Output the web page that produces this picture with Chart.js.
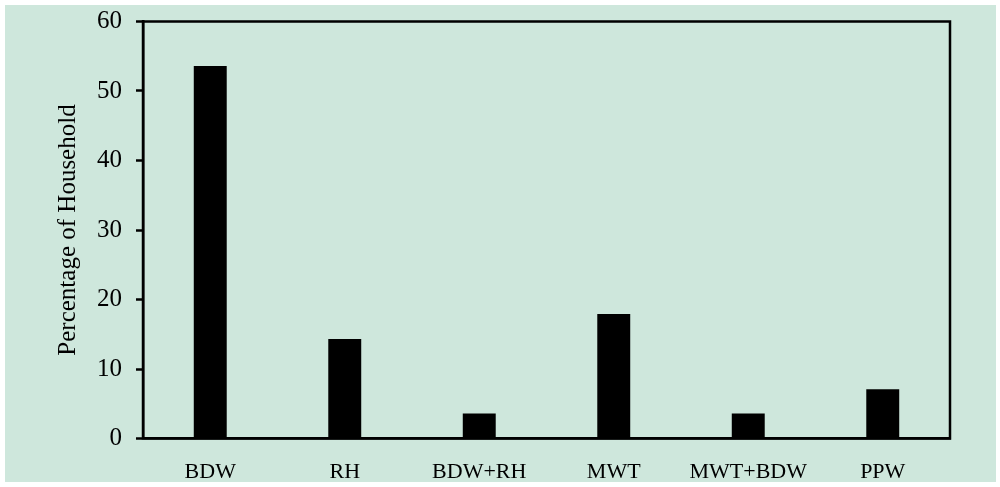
<!DOCTYPE html>
<html>
<head>
<meta charset="utf-8">
<script src="https://cdn.jsdelivr.net/npm/chart.js@4/dist/chart.umd.min.js"></script>
<style>
  html, body { margin: 0; padding: 0; background: #fff; }
  #wrap { width: 1000px; height: 487px; position: relative; }
</style>
</head>
<body>
<div id="wrap"><canvas id="myChart" width="1000" height="487"></canvas></div>
<script>
const categories = ['BDW', 'RH', 'BDW+RH', 'MWT', 'MWT+BDW', 'PPW'];
const percentages = [53.6, 14.3, 3.6, 17.9, 3.6, 7.1];
const yTicks = [0, 10, 20, 30, 40, 50, 60];

const serif = "'Liberation Serif', 'DejaVu Serif', serif";

// green panel behind everything, black frame round the plot
const panel = {
  id: 'panel',
  beforeDraw(chart) {
    const ctx = chart.ctx;
    ctx.save();
    ctx.fillStyle = 'rgb(206,231,220)';
    ctx.fillRect(5, 5, 991, 477);
    ctx.restore();
  },
  afterDraw(chart) {
    const a = chart.chartArea;
    const ctx = chart.ctx;
    ctx.save();
    ctx.strokeStyle = '#000';
    ctx.lineWidth = 2.5;
    ctx.strokeRect(a.left, a.top, a.right - a.left, a.bottom - a.top);
    ctx.restore();
  }
};

const data = {
  labels: categories,
  datasets: [{
    data: percentages,
    backgroundColor: '#000',
    borderWidth: 0,
    barPercentage: 0.5,
    categoryPercentage: 0.49
  }]
};

const config = {
  type: 'bar',
  data: data,
  plugins: [panel],
  options: {
    responsive: false,
    animation: false,
    layout: { padding: { top: 21.5, right: 50, bottom: 0, left: 0 } },
    plugins: {
      legend: { display: false },
      tooltip: { enabled: false }
    },
    scales: {
      x: {
        grid: { display: false, drawTicks: false },
        border: { display: true, color: '#000', width: 2.5 },
        ticks: {
          color: '#000',
          padding: 21,
          font: { family: serif, size: 22 }
        },
        afterFit(scale) { scale.height = 48.5; }
      },
      y: {
        min: 0,
        max: 60,
        afterBuildTicks(scale) { scale.ticks = yTicks.map(v => ({ value: v })); },
        grid: {
          drawOnChartArea: false,
          drawTicks: true,
          tickLength: 7,
          tickWidth: 2.5,
          color: '#000'
        },
        border: { display: true, color: '#000', width: 2.5 },
        ticks: {
          color: '#000',
          padding: 14,
          font: { family: serif, size: 25 }
        },
        title: {
          display: true,
          text: 'Percentage of Household',
          color: '#000',
          padding: { top: 53, bottom: 0 },
          font: { family: serif, size: 25 }
        },
        afterFit(scale) {
          scale.width = 143;
          scale.paddingTop = 0;
          scale.paddingBottom = 0;
        }
      }
    }
  }
};

const myChart = new Chart(document.getElementById('myChart'), config);
</script>
</body>
</html>
